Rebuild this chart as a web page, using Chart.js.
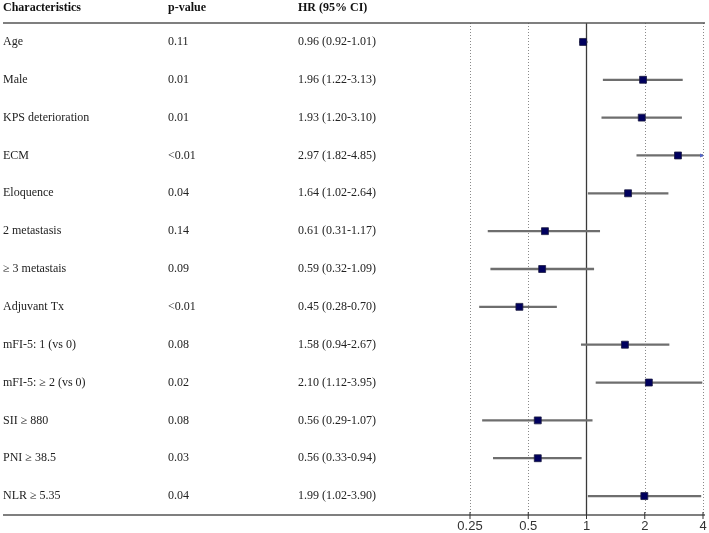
<!DOCTYPE html>
<html>
<head>
<meta charset="utf-8">
<script src="https://cdn.jsdelivr.net/npm/chart.js@4"></script>
<style>
  body { margin: 0; background: #fff; }
  #wrap { width: 709px; height: 533px; }
</style>
</head>
<body>
<div id="wrap"><canvas id="forest" width="709" height="533"></canvas></div>
<script>
const labels = ['Age', 'Male', 'KPS deterioration', 'ECM', 'Eloquence', '2 metastasis', '\u2265 3 metastais',
  'Adjuvant Tx', 'mFI-5: 1 (vs 0)', 'mFI-5: \u2265 2 (vs 0)', 'SII \u2265 880', 'PNI \u2265 38.5', 'NLR \u2265 5.35'];
const pValues = ['0.11', '0.01', '0.01', '<0.01', '0.04', '0.14', '0.09', '<0.01', '0.08', '0.02', '0.08', '0.03', '0.04'];
const hr = [0.96, 1.96, 1.93, 2.97, 1.64, 0.61, 0.59, 0.45, 1.58, 2.10, 0.56, 0.56, 1.99];
const lower = [0.92, 1.22, 1.20, 1.82, 1.02, 0.31, 0.32, 0.28, 0.94, 1.12, 0.29, 0.33, 1.02];
const upper = [1.01, 3.13, 3.10, 4.85, 2.64, 1.17, 1.09, 0.70, 2.67, 3.95, 1.07, 0.94, 3.90];
const xTicks = [0.25, 0.5, 1, 2, 4];

const serif = '"Liberation Serif", "Times New Roman", serif';
const sans = '"Liberation Sans", Arial, sans-serif';

// table text, lines and axis, drawn from the chart's own scales
const tablePlugin = {
  id: 'table',
  beforeDatasetsDraw(chart) {
    const ctx = chart.ctx;
    const xs = chart.scales.x;
    const ys = chart.scales.y;
    const area = chart.chartArea;
    ctx.save();

    // dotted reference lines
    ctx.strokeStyle = '#8a8a8a';
    ctx.lineWidth = 1;
    ctx.setLineDash([1, 2]);
    xTicks.forEach(t => {
      if (t === 1) return;
      const x = Math.round(xs.getPixelForValue(t)) + 0.5;
      ctx.beginPath();
      ctx.moveTo(x, area.top);
      ctx.lineTo(x, area.bottom);
      ctx.stroke();
    });
    ctx.setLineDash([]);

    // line of no effect
    ctx.strokeStyle = '#3a3a3a';
    ctx.lineWidth = 1.3;
    const x1 = xs.getPixelForValue(1);
    ctx.beginPath();
    ctx.moveTo(x1, area.top);
    ctx.lineTo(x1, area.bottom);
    ctx.stroke();

    // top and bottom rules
    ctx.strokeStyle = '#555';
    ctx.lineWidth = 1.4;
    [area.top, area.bottom].forEach(y => {
      ctx.beginPath();
      ctx.moveTo(3, y);
      ctx.lineTo(705, y);
      ctx.stroke();
    });

    // axis ticks and labels
    ctx.strokeStyle = '#333';
    ctx.lineWidth = 1;
    ctx.fillStyle = '#333';
    ctx.font = '13px ' + sans;
    ctx.textAlign = 'center';
    ctx.textBaseline = 'middle';
    xTicks.forEach(t => {
      const x = xs.getPixelForValue(t);
      ctx.beginPath();
      ctx.moveTo(x, area.bottom - 3);
      ctx.lineTo(x, area.bottom + 4);
      ctx.stroke();
      ctx.fillText(String(t), x, area.bottom + 11);
    });

    // header
    ctx.fillStyle = '#111';
    ctx.textAlign = 'left';
    ctx.font = 'bold 12px ' + serif;
    ctx.fillText('Characteristics', 3, 8);
    ctx.fillText('p-value', 168, 8);
    ctx.fillText('HR (95% CI)', 298, 8);

    // rows
    ctx.font = '12px ' + serif;
    ctx.fillStyle = '#222';
    labels.forEach((lab, i) => {
      const y = ys.getPixelForValue(i);
      ctx.fillText(lab, 3, y);
      ctx.fillText(pValues[i], 168, y);
      ctx.fillText(hr[i].toFixed(2) + ' (' + lower[i].toFixed(2) + '-' + upper[i].toFixed(2) + ')', 298, y);
    });

    ctx.restore();
  },
  afterDatasetsDraw(chart) {
    // small arrow where the interval runs past the axis
    const ctx = chart.ctx;
    const xs = chart.scales.x;
    const ys = chart.scales.y;
    ctx.save();
    ctx.fillStyle = '#5566c8';
    upper.forEach((u, i) => {
      if (u <= xs.max) return;
      const x = xs.getPixelForValue(xs.max);
      const y = ys.getPixelForValue(i);
      ctx.beginPath();
      ctx.moveTo(x + 1, y);
      ctx.lineTo(x - 3, y - 2);
      ctx.lineTo(x - 3, y + 2);
      ctx.closePath();
      ctx.fill();
    });
    ctx.restore();
  }
};

new Chart(document.getElementById('forest'), {
  type: 'bar',
  data: {
    labels: labels,
    datasets: [
      {
        type: 'bar',
        indexAxis: 'y',
        order: 2,
        data: labels.map((l, i) => [lower[i], upper[i]]),
        backgroundColor: '#6e6e6e',
        borderWidth: 0,
        barThickness: 1.6,
        clip: 0
      },
      {
        type: 'scatter',
        order: 1,
        data: labels.map((l, i) => ({ x: hr[i], y: i })),
        pointStyle: 'rect',
        pointRadius: 4.9,
        backgroundColor: '#00005e',
        borderColor: '#1a1a40',
        borderWidth: 0.8
      }
    ]
  },
  options: {
    responsive: false,
    animation: false,
    devicePixelRatio: 1,
    layout: { padding: { left: 470, right: 6, top: 23, bottom: 18 } },
    plugins: { legend: { display: false }, tooltip: { enabled: false } },
    scales: {
      x: { type: 'logarithmic', min: 0.25, max: 4, display: false },
      y: { type: 'category', labels: labels, offset: true, display: false }
    }
  },
  plugins: [tablePlugin]
});
</script>
</body>
</html>
